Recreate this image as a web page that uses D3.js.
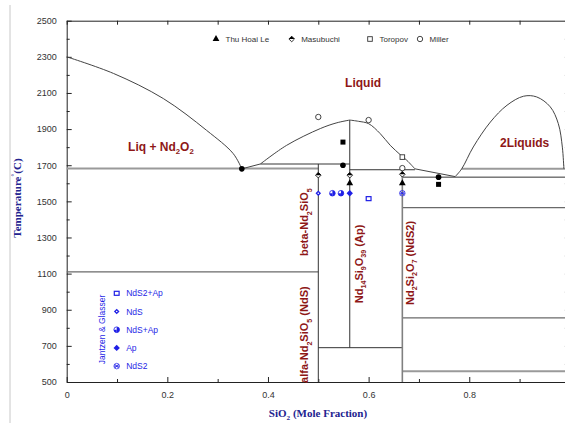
<!DOCTYPE html>
<html>
<head>
<meta charset="utf-8">
<script src="https://cdn.jsdelivr.net/npm/d3@7"></script>
<style>
  body { margin: 0; background: #fff; }
  svg { display: block; }
</style>
</head>
<body>
<svg id="chart" width="565" height="427"></svg>
<script>
// ---------- Nd2O3 – SiO2 phase diagram data (x = SiO2 mole fraction, T in °C) ----------
const xMajorTicks = [0, 0.2, 0.4, 0.6, 0.8];
const xMinorTicks = [0.1, 0.3, 0.5, 0.7, 0.9];
const yMajorTicks = [500, 700, 900, 1100, 1300, 1500, 1700, 1900, 2100, 2300, 2500];
const yMinorTicks = [600, 800, 1000, 1200, 1400, 1600, 1800, 2000, 2200, 2400];

// liquidus branches
const liquidusNd2O3 = [[0, 2300], [0.093, 2208], [0.192, 2069], [0.278, 1893], [0.331, 1764], [0.348, 1680]];
const liquidusPeritectic = [[0.348, 1680], [0.385, 1707]];
const liquidusApLeft = [[0.385, 1707], [0.437, 1810], [0.504, 1903], [0.537, 1935], [0.5625, 1950]];
const liquidusApRight = [[0.5625, 1950], [0.58, 1943], [0.6, 1930], [0.623, 1875], [0.643, 1810],
                         [0.663, 1758], [0.676, 1727], [0.692, 1680]];
const liquidusNdS2 = [[0.692, 1680], [0.772, 1637]];
const miscibilityGap = [[0.772, 1637], [0.785, 1680], [0.808, 1801], [0.842, 1939], [0.875, 2032],
                        [0.908, 2082], [0.934, 2078], [0.961, 2023], [0.977, 1930], [0.985, 1800], [0.988, 1680]];

// invariant / transition lines: [x from, x to, T]
const isothermsHeavy = [[0, 0.5, 1682], [0.385, 0.5625, 1707], [0.785, 1, 1680], [0.667, 1, 560]];
const isothermsMedium = [[0, 0.5, 1110], [0.667, 1, 1465], [0.667, 1, 855]];
const isothermsThin = [[0.5625, 0.692, 1675], [0.667, 1, 1634], [0.5, 0.667, 690]];

// compound lines: [x, T top, T bottom]
const compoundsThin = [[0.5, 1707, 500], [0.5625, 1950, 690]];
const compoundsHeavy = [[0.667, 1675, 500]];

// experimental points
const thuHoaiLe = [[0.5625, 1600], [0.667, 1600]];
const masubuchi = [[0.5, 1645], [0.5625, 1645], [0.667, 1650]];
const toropov = [[0.667, 1745]];
const miller = [[0.5, 1967], [0.6, 1950], [0.667, 1684]];
const solidPoints = [[0.348, 1680], [0.549, 1700], [0.739, 1634]];
const solidSquares = [[0.549, 1828], [0.739, 1594]];
const jgNdS2Ap = [[0.6, 1515]];
const jgNdS = [[0.5, 1545]];
const jgNdSAp = [[0.528, 1545], [0.545, 1545]];
const jgAp = [[0.5625, 1545]];
const jgNdS2 = [[0.667, 1545]];

// field and phase labels: [text, x, T]
const fieldLabels = [["Liquid", 0.589, 2133, "middle"], ["Liq + Nd_{2}O_{2}", 0.122, 1780, "start"], ["2Liquids", 0.861, 1801, "start"]];
const phaseLabels = [["beta-Nd_{2}SiO_{5}", 0.4805, 1197], ["alfa-Nd_{2}SiO_{5} (NdS)", 0.4805, 495],
                     ["Nd_{14}Si_{9}O_{39} (Ap)", 0.588, 936], ["Nd_{2}Si_{2}O_{7} (NdS2)", 0.690, 926]];

const topLegend = ["Thu Hoai Le", "Masubuchi", "Toropov", "Miller"];
const sideLegend = ["NdS2+Ap", "NdS", "NdS+Ap", "Ap", "NdS2"];

// ---------- setup ----------
const svg = d3.select("#chart");
const plot = { left: 66.7, right: 569.9, top: 20.7, bottom: 382 };
const x = d3.scaleLinear().domain([0, 1]).range([plot.left, plot.right]);
const y = d3.scaleLinear().domain([500, 2500]).range([plot.bottom, plot.top]);

const RED = "#8e1717", BLUE = "#1f1fe6", NAVY = "#23238f";

// figure frame edge
svg.append("line").attr("x1", 10).attr("x2", 10).attr("y1", 5).attr("y2", 423)
  .attr("stroke", "#c8c8c8").attr("stroke-width", 1);

// rich text with _{sub} and ^{sup}
function rich(sel, str, fs) {
  const parts = str.split(/(_\{[^}]*\}|\^\{[^}]*\})/).filter(s => s.length);
  let shift = 0;
  parts.forEach(p => {
    let kind = null, t = p;
    if (p.startsWith("_{")) { kind = "sub"; t = p.slice(2, -1); }
    else if (p.startsWith("^{")) { kind = "sup"; t = p.slice(2, -1); }
    const target = kind === "sub" ? fs * 0.3 : kind === "sup" ? -fs * 0.45 : 0;
    const ts = sel.append("tspan").text(t).attr("dy", target - shift);
    if (kind) ts.attr("font-size", fs * 0.65);
    shift = target;
  });
}

// ---------- axes ----------
function styleAxis(g) {
  g.selectAll("path.domain").attr("stroke", "#222").attr("stroke-width", 1);
  g.selectAll(".tick line").attr("stroke", "#222");
  g.selectAll(".tick text").attr("font-family", "Arial, 'Liberation Sans', sans-serif")
    .attr("font-size", 9).attr("fill", "#333");
}
const fmtX = d => d === 0 ? "0" : d3.format(".1f")(d);
const fmtY = d3.format("d");

svg.append("g").attr("transform", `translate(0,${plot.bottom})`)
  .call(d3.axisBottom(x).tickValues(xMajorTicks).tickSize(-5).tickSizeOuter(0).tickPadding(10).tickFormat(fmtX))
  .call(styleAxis);
svg.append("g").attr("transform", `translate(0,${plot.bottom})`)
  .call(d3.axisBottom(x).tickValues(xMinorTicks).tickSize(-3).tickFormat(""))
  .call(g => g.select(".domain").remove()).call(styleAxis);
svg.append("g").attr("transform", `translate(0,${plot.top})`)
  .call(d3.axisTop(x).tickValues(xMajorTicks.concat(xMinorTicks)).tickSize(-4).tickSizeOuter(0).tickFormat(""))
  .call(styleAxis);
svg.append("g").attr("transform", `translate(${plot.left},0)`)
  .call(d3.axisLeft(y).tickValues(yMajorTicks).tickSize(-5).tickSizeOuter(0).tickPadding(10).tickFormat(fmtY))
  .call(styleAxis);
svg.append("g").attr("transform", `translate(${plot.left},0)`)
  .call(d3.axisLeft(y).tickValues(yMinorTicks).tickSize(-3).tickFormat(""))
  .call(g => g.select(".domain").remove()).call(styleAxis);
svg.append("g").attr("transform", `translate(${plot.right},0)`)
  .call(d3.axisRight(y).tickValues(yMajorTicks.concat(yMinorTicks)).tickSize(-5).tickSizeOuter(0).tickFormat(""))
  .call(styleAxis);

// ---------- boundaries ----------
const lines = svg.append("g").attr("fill", "none");
const straight = d3.line().x(d => x(d[0])).y(d => y(d[1]));
const smooth = d3.line().x(d => x(d[0])).y(d => y(d[1])).curve(d3.curveCatmullRom.alpha(0.5));

function hLines(data, color, width) {
  lines.selectAll(null).data(data).join("line")
    .attr("x1", d => x(d[0])).attr("x2", d => x(d[1]))
    .attr("y1", d => y(d[2])).attr("y2", d => y(d[2]))
    .attr("stroke", color).attr("stroke-width", width);
}
function vLines(data, color, width) {
  lines.selectAll(null).data(data).join("line")
    .attr("x1", d => x(d[0])).attr("x2", d => x(d[0]))
    .attr("y1", d => y(d[1])).attr("y2", d => y(d[2]))
    .attr("stroke", color).attr("stroke-width", width);
}
hLines(isothermsHeavy, "#9a9a9a", 2);
hLines(isothermsMedium, "#6a6a6a", 1.2);
hLines(isothermsThin, "#333", 1);
vLines(compoundsThin, "#333", 1);
vLines(compoundsHeavy, "#808080", 1.6);

[liquidusNd2O3, liquidusApLeft, liquidusApRight, miscibilityGap].forEach(d =>
  lines.append("path").attr("d", smooth(d)).attr("stroke", "#444").attr("stroke-width", 1));
[liquidusPeritectic, liquidusNdS2].forEach(d =>
  lines.append("path").attr("d", straight(d)).attr("stroke", "#444").attr("stroke-width", 1));

// ---------- markers ----------
function marker(g, type, color) {
  const r = 2.8;
  if (type === "triangle") {
    g.append("path").attr("d", d3.symbol(d3.symbolTriangle, 20)()).attr("fill", color);
  } else if (type === "halfDiamond") {
    g.append("path").attr("d", `M0,${-r}L${r},0L0,${r}L${-r},0Z`).attr("fill", "#fff").attr("stroke", color).attr("stroke-width", 0.8);
    g.append("path").attr("d", `M0,${-r}L${r},0L${-r},0Z`).attr("fill", color);
  } else if (type === "openSquare") {
    g.append("rect").attr("x", -2.3).attr("y", -2.3).attr("width", 4.6).attr("height", 4.6)
      .attr("fill", "#fff").attr("stroke", color).attr("stroke-width", 0.9);
  } else if (type === "openCircle") {
    g.append("circle").attr("r", 2.7).attr("fill", "#fff").attr("stroke", color).attr("stroke-width", 0.9);
  } else if (type === "dot") {
    g.append("circle").attr("r", 2.8).attr("fill", color);
  } else if (type === "square") {
    g.append("rect").attr("x", -2.5).attr("y", -2.5).attr("width", 5).attr("height", 5).attr("fill", color);
  } else if (type === "ringSquare") {
    g.append("rect").attr("x", -2.4).attr("y", -2).attr("width", 4.8).attr("height", 4)
      .attr("fill", "#fff").attr("stroke", color).attr("stroke-width", 1.2);
  } else if (type === "ringDiamond") {
    g.append("path").attr("d", `M0,${-r}L${r},0L0,${r}L${-r},0Z`).attr("fill", color);
    g.append("circle").attr("r", 0.8).attr("fill", "#fff");
  } else if (type === "halfCircle") {
    g.append("circle").attr("r", 2.8).attr("fill", "#fff").attr("stroke", color).attr("stroke-width", 0.8);
    g.append("path").attr("d", `M0,-2.8A2.8,2.8 0 0 1 0,2.8Z`).attr("fill", color);
    g.append("path").attr("d", `M-2.8,0A2.8,2.8 0 0 0 0,2.8L0,0Z`).attr("fill", color);
  } else if (type === "diamond") {
    g.append("path").attr("d", `M0,-3.2L3.2,0L0,3.2L-3.2,0Z`).attr("fill", color);
  } else if (type === "star") {
    g.append("circle").attr("r", 2.8).attr("fill", "none").attr("stroke", color).attr("stroke-width", 0.7);
    g.append("path").attr("d", "M-2,-2L2,2M-2,2L2,-2M-2.6,0L2.6,0")
      .attr("stroke", color).attr("stroke-width", 0.9);
  }
}
function series(data, type, color) {
  svg.append("g").selectAll(null).data(data).join("g")
    .attr("transform", d => `translate(${x(d[0])},${y(d[1])})`)
    .each(function () { marker(d3.select(this), type, color); });
}
series(solidPoints, "dot", "#000");
series(solidSquares, "square", "#000");
series(thuHoaiLe, "triangle", "#000");
series(masubuchi, "halfDiamond", "#000");
series(toropov, "openSquare", "#333");
series(miller, "openCircle", "#333");
series(jgNdS, "ringDiamond", BLUE);
series(jgNdSAp, "halfCircle", BLUE);
series(jgAp, "diamond", BLUE);
series(jgNdS2Ap, "ringSquare", BLUE);
series(jgNdS2, "star", BLUE);

// ---------- labels ----------
const labelFont = "Arial, 'Liberation Sans', sans-serif";
fieldLabels.forEach(([t, lx, lt, anchor]) => {
  const el = svg.append("text").attr("x", x(lx)).attr("y", y(lt)).attr("text-anchor", anchor)
    .attr("font-family", labelFont).attr("font-weight", "bold").attr("font-size", 12).attr("fill", RED);
  rich(el, t, 12);
});
phaseLabels.forEach(([t, lx, lt]) => {
  const el = svg.append("text").attr("transform", `translate(${x(lx)},${y(lt)}) rotate(-90)`)
    .attr("font-family", labelFont).attr("font-weight", "bold").attr("font-size", 11).attr("fill", RED);
  rich(el, t, 11);
});

// axis titles
const yTitle = svg.append("text").attr("transform", "translate(21,198) rotate(-90)").attr("text-anchor", "middle")
  .attr("font-family", "'Liberation Serif', 'Times New Roman', serif").attr("font-weight", "bold")
  .attr("font-size", 11).attr("fill", NAVY);
rich(yTitle, "Temperature^{°}(C)", 11);
const xTitle = svg.append("text").attr("x", 318).attr("y", 417).attr("text-anchor", "middle")
  .attr("font-family", "'Liberation Serif', 'Times New Roman', serif").attr("font-weight", "bold")
  .attr("font-size", 11).attr("fill", NAVY);
rich(xTitle, "SiO_{2} (Mole Fraction)", 11);

// top legend
const topTypes = ["triangle", "halfDiamond", "openSquare", "openCircle"];
const topX = [216, 291.7, 370, 420];
topLegend.forEach((name, i) => {
  const g = svg.append("g").attr("transform", `translate(${topX[i]},39)`);
  marker(g, topTypes[i], i < 2 ? "#000" : "#333");
  g.append("text").attr("x", 9.5).attr("y", 3).attr("font-family", labelFont).attr("font-size", 8)
    .attr("fill", "#333").text(name);
});

// side legend for the Jantzen & Glasser points
const sideTypes = ["ringSquare", "ringDiamond", "halfCircle", "diamond", "star"];
sideLegend.forEach((name, i) => {
  const g = svg.append("g").attr("transform", `translate(116.7,${293.3 + i * 18.2})`);
  marker(g, sideTypes[i], BLUE);
  g.append("text").attr("x", 9.5).attr("y", 3).attr("font-family", labelFont).attr("font-size", 8.5)
    .attr("fill", BLUE).text(name);
});
svg.append("text").attr("transform", "translate(104.5,329.5) rotate(-90)").attr("text-anchor", "middle")
  .attr("font-family", labelFont).attr("font-size", 8.5).attr("fill", BLUE).text("Jantzen & Glasser");
</script>
</body>
</html>
